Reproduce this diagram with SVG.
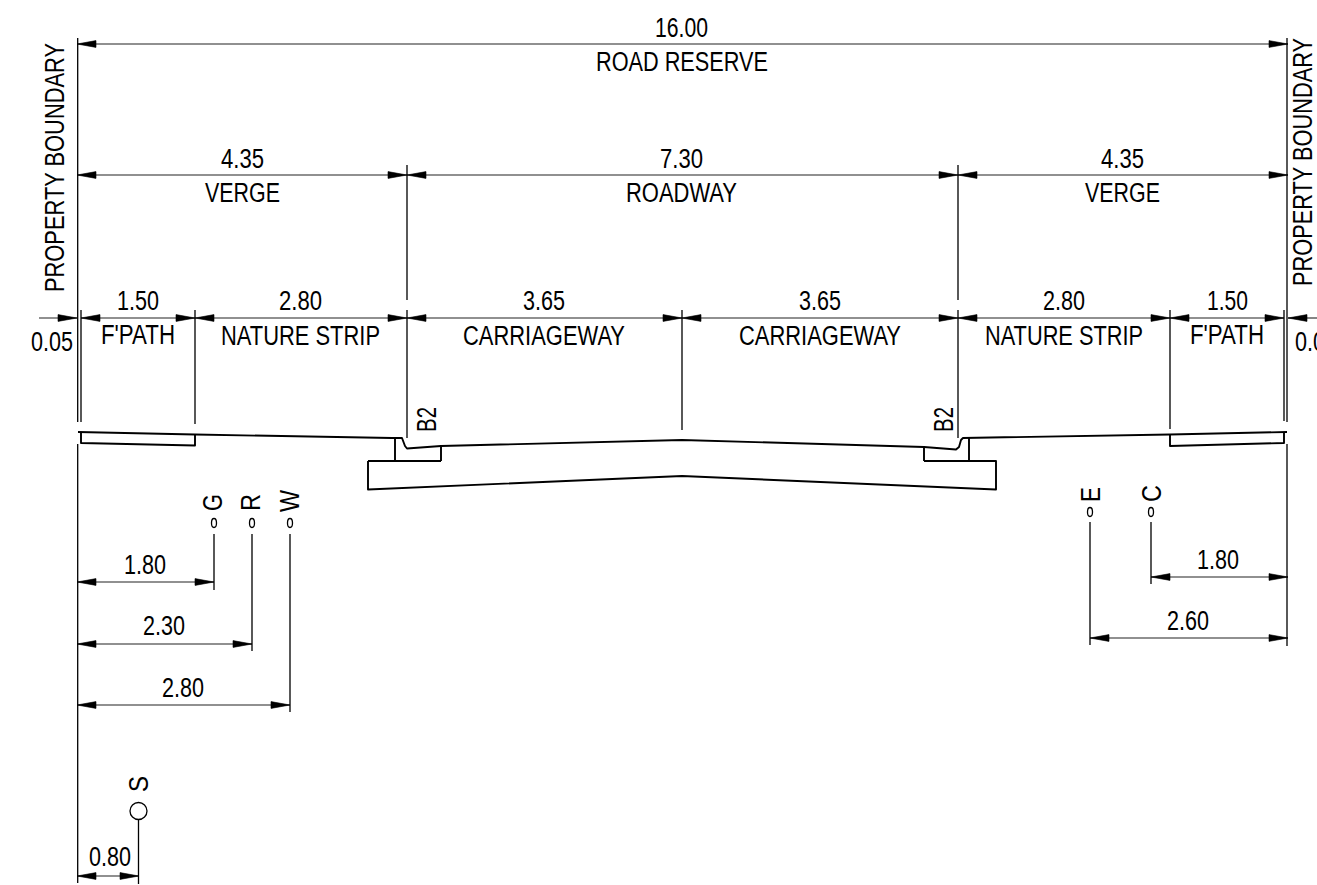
<svg xmlns="http://www.w3.org/2000/svg" width="1317" height="885" viewBox="0 0 1317 885">
<style>
.bg{fill:#fff}
.l{fill:none;stroke:#000;stroke-width:1.3}
.r{fill:none;stroke:#000;stroke-width:1.9;stroke-linejoin:round}
.d{fill:none;stroke:#222;stroke-width:1.1;marker-start:url(#a);marker-end:url(#a)}
text{font-family:"Liberation Sans",Arial,sans-serif;font-size:27px;fill:#000;text-anchor:start}
</style>
<defs>
<marker id="a" markerUnits="userSpaceOnUse" markerWidth="24" markerHeight="12" refX="20" refY="5" orient="auto-start-reverse"><path d="M1 1.6L20 5L1 8.4Z" fill="#000" stroke="#000" stroke-width="0.6"/></marker>
</defs>
<rect class="bg" width="1317" height="885"/>
<g id="connectors">
<path class="d" d="M77 44H1288"/>
<path class="d" d="M77 175H407"/>
<path class="d" d="M407 175H958"/>
<path class="d" d="M958 175H1288"/>
<path class="d" style="marker-start:none" d="M39 318H77"/>
<path class="d" d="M81 318H195"/>
<path class="d" d="M195 318H407"/>
<path class="d" d="M407 318H682"/>
<path class="d" d="M682 318H958"/>
<path class="d" d="M958 318H1170"/>
<path class="d" d="M1170 318H1284"/>
<path class="d" style="marker-end:none" d="M1288 318H1317"/>
<path class="d" d="M77 582H214"/>
<path class="d" d="M77 644H252"/>
<path class="d" d="M77 705H290"/>
<path class="d" d="M77 876H139"/>
<path class="d" d="M1151 577H1288"/>
<path class="d" d="M1090 638H1288"/>
<path class="l" d="M77.7 38V422M77.7 444V883M81 310V422M195 310V424M407 165V300M407 310V438M682 310V430M958 165V300M958 310V438M1170 310V429M1284 310V421M1287 38V422M1287 444V646"/>
<path class="l" d="M214 534V590M252 534V651M290 534V712M138.5 820V884M1090 522V645M1151 522V584"/>
</g>
<g id="road">
<path class="r" d="M78 432L195 434.5L392 438L402 438L405 446L407 448.5L441 446L682 440L924 447L956 449.5L959 447L961 440L963 438L1170 434.5L1287 432"/>
<path class="r" d="M81 432V443L195 445.5V434.5M1170 434.5V446L1284 443V432"/>
<path class="r" d="M395 438V461M441 446V461M368 461H441M368 461V489.5L682 476L996 489.5V461H924M924 447V461M969 438V461"/>
</g>
<g id="utilities" class="l">
<ellipse cx="214" cy="523" rx="2.5" ry="4.5"/>
<ellipse cx="252" cy="523" rx="2.5" ry="4.5"/>
<ellipse cx="290" cy="523" rx="2.5" ry="4.5"/>
<ellipse cx="1090" cy="512" rx="2.5" ry="4.5"/>
<ellipse cx="1151" cy="512" rx="2.5" ry="4.5"/>
<circle cx="138.5" cy="811" r="8.5"/>
</g>
<g id="labels">
<text x="655" y="37" textLength="53" lengthAdjust="spacingAndGlyphs">16.00</text>
<text x="596" y="71" textLength="172" lengthAdjust="spacingAndGlyphs">ROAD RESERVE</text>
<text x="221" y="168" textLength="43" lengthAdjust="spacingAndGlyphs">4.35</text>
<text x="205" y="202" textLength="75" lengthAdjust="spacingAndGlyphs">VERGE</text>
<text x="660" y="168" textLength="43" lengthAdjust="spacingAndGlyphs">7.30</text>
<text x="626" y="202" textLength="111" lengthAdjust="spacingAndGlyphs">ROADWAY</text>
<text x="1101" y="168" textLength="43" lengthAdjust="spacingAndGlyphs">4.35</text>
<text x="1085" y="202" textLength="75" lengthAdjust="spacingAndGlyphs">VERGE</text>
<text x="117" y="310" textLength="42" lengthAdjust="spacingAndGlyphs">1.50</text>
<text x="101" y="344" textLength="74" lengthAdjust="spacingAndGlyphs">F'PATH</text>
<text x="279" y="310" textLength="43" lengthAdjust="spacingAndGlyphs">2.80</text>
<text x="221" y="345" textLength="159" lengthAdjust="spacingAndGlyphs">NATURE STRIP</text>
<text x="523" y="310" textLength="42" lengthAdjust="spacingAndGlyphs">3.65</text>
<text x="463" y="345" textLength="162" lengthAdjust="spacingAndGlyphs">CARRIAGEWAY</text>
<text x="799" y="310" textLength="42" lengthAdjust="spacingAndGlyphs">3.65</text>
<text x="739" y="345" textLength="162" lengthAdjust="spacingAndGlyphs">CARRIAGEWAY</text>
<text x="1043" y="310" textLength="42" lengthAdjust="spacingAndGlyphs">2.80</text>
<text x="985" y="345" textLength="158" lengthAdjust="spacingAndGlyphs">NATURE STRIP</text>
<text x="1207" y="310" textLength="41" lengthAdjust="spacingAndGlyphs">1.50</text>
<text x="1190" y="344" textLength="74" lengthAdjust="spacingAndGlyphs">F'PATH</text>
<text x="31" y="351" textLength="42" lengthAdjust="spacingAndGlyphs">0.05</text>
<text x="1295" y="351" textLength="42" lengthAdjust="spacingAndGlyphs">0.05</text>
<text x="124" y="574" textLength="42" lengthAdjust="spacingAndGlyphs">1.80</text>
<text x="143" y="635" textLength="42" lengthAdjust="spacingAndGlyphs">2.30</text>
<text x="162" y="697" textLength="42" lengthAdjust="spacingAndGlyphs">2.80</text>
<text x="89" y="866" textLength="42" lengthAdjust="spacingAndGlyphs">0.80</text>
<text x="1197" y="569" textLength="42" lengthAdjust="spacingAndGlyphs">1.80</text>
<text x="1167" y="630" textLength="42" lengthAdjust="spacingAndGlyphs">2.60</text>
<text transform="translate(64 292) rotate(-90)" textLength="249" lengthAdjust="spacingAndGlyphs">PROPERTY BOUNDARY</text>
<text transform="translate(1312 286) rotate(-90)" textLength="248" lengthAdjust="spacingAndGlyphs">PROPERTY BOUNDARY</text>
<text transform="translate(436 432) rotate(-90)" textLength="25" lengthAdjust="spacingAndGlyphs">B2</text>
<text transform="translate(953 432) rotate(-90)" textLength="25" lengthAdjust="spacingAndGlyphs">B2</text>
<text transform="translate(222 511) rotate(-90)" textLength="17" lengthAdjust="spacingAndGlyphs">G</text>
<text transform="translate(260 511) rotate(-90)" textLength="17" lengthAdjust="spacingAndGlyphs">R</text>
<text transform="translate(299 512) rotate(-90)" textLength="22" lengthAdjust="spacingAndGlyphs">W</text>
<text transform="translate(1100 502) rotate(-90)" textLength="15" lengthAdjust="spacingAndGlyphs">E</text>
<text transform="translate(1161 502) rotate(-90)" textLength="17" lengthAdjust="spacingAndGlyphs">C</text>
<text transform="translate(148 792) rotate(-90)" textLength="16" lengthAdjust="spacingAndGlyphs">S</text>
</g>
</svg>
